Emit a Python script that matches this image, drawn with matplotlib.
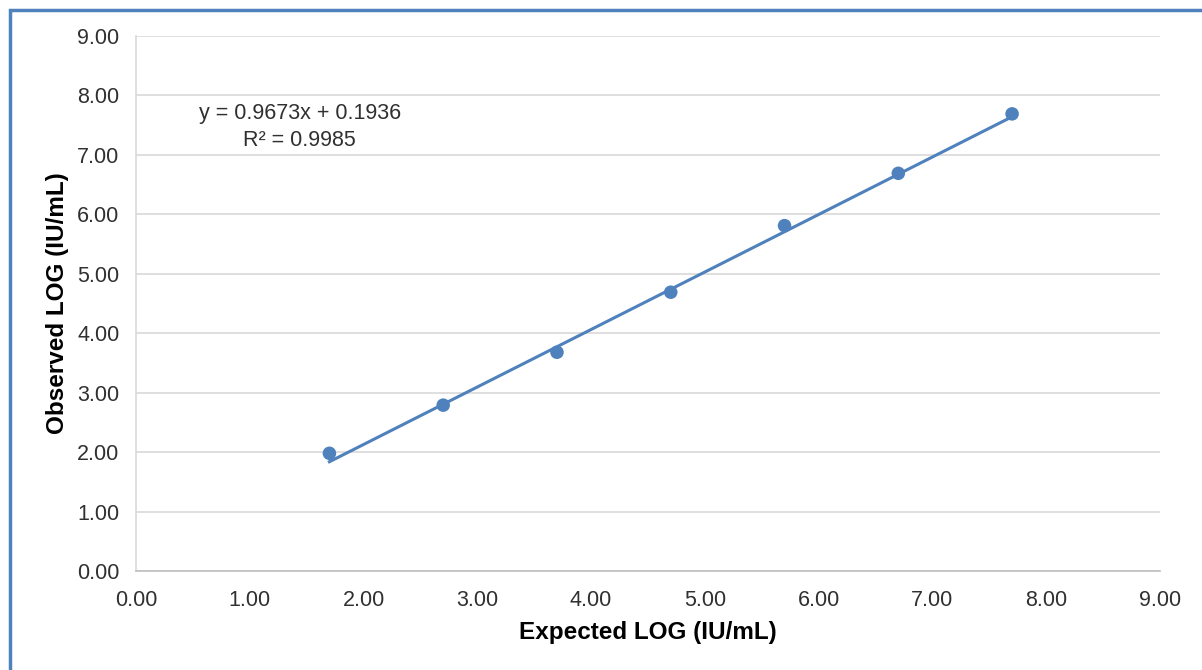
import matplotlib
matplotlib.use("Agg")
import matplotlib.pyplot as plt
from matplotlib.patches import Rectangle
import numpy as np

plt.rcParams['font.family'] = ['Liberation Sans', 'DejaVu Sans']

expected = [1.70, 2.70, 3.70, 4.70, 5.70, 6.70, 7.70]
observed = [1.98, 2.79, 3.68, 4.69, 5.81, 6.69, 7.69]
slope = 0.9673
intercept = 0.1936
r2 = 0.9985
ticks = [0, 1, 2, 3, 4, 5, 6, 7, 8, 9]

blue = '#4F81BD'

fig = plt.figure(figsize=(12.02, 6.70), dpi=100)
ax = fig.add_axes([136/1202, 99/670, (1160-136)/1202, (571-36)/670])

ax.scatter(expected, observed, s=95, color=blue, zorder=3, edgecolors='none')
xt = np.array([min(expected), max(expected)])
ax.plot(xt, slope*xt + intercept, color=blue, lw=2.2, zorder=2)

ax.set_xlim(0, 9)
ax.set_ylim(0, 9)
ax.set_xticks(ticks)
ax.set_yticks(ticks)
ax.set_xticklabels([f"{t:.2f}" for t in ticks], fontsize=15.5, color='#303030')
ax.set_yticklabels([f"{t:.2f}" for t in ticks], fontsize=15.5, color='#303030')
ax.tick_params(axis='x', length=0, pad=14)
ax.tick_params(axis='y', length=0, pad=12)
ax.grid(axis='y', color='#D9D9D9', lw=1.2)
ax.set_axisbelow(True)
for s in ['top', 'right']:
    ax.spines[s].set_visible(False)
ax.spines['left'].set_color('#D9D9D9')
ax.spines['left'].set_linewidth(1.2)
ax.spines['bottom'].set_color('#BFBFBF')
ax.spines['bottom'].set_linewidth(1.2)

ax.set_xlabel('Expected LOG (IU/mL)', fontsize=17.5, fontweight='bold', labelpad=7)
ax.set_ylabel('Observed LOG (IU/mL)', fontsize=17.5, fontweight='bold', labelpad=6)

ax.text(1.44, 7.47, f"y = {slope}x + {intercept}\nR² = {r2}", ha='center', va='center',
        fontsize=15.5, color='#303030', linespacing=1.35)

fig.patches.append(Rectangle((10/1202, -0.1), 1.2, (660/670) + 0.1, transform=fig.transFigure,
                             fill=False, edgecolor=blue, lw=2.5))

fig.savefig('out.png', dpi=100)
